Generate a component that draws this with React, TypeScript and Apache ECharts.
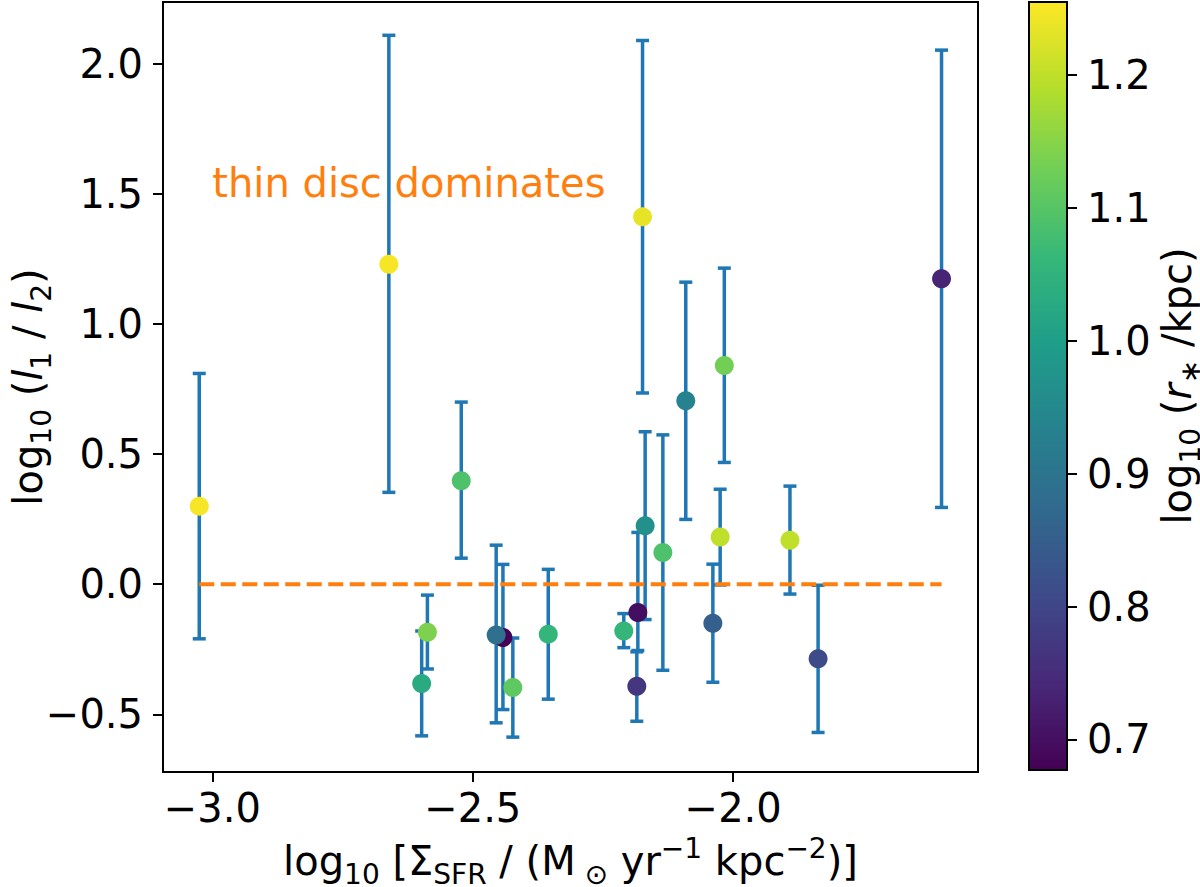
import React, { useEffect, useRef } from 'react';
import * as echarts from 'echarts';

// log10 Sigma_SFR of each galaxy
const sfr = [
  -3.025, -2.661, -2.522, -2.598, -2.587, -2.442, -2.455, -2.423, -2.355, -2.21, -2.183,
  -2.185, -2.169, -2.174, -2.135, -2.091, -2.039, -2.025, -2.017, -1.891, -1.837, -1.6,
];
// log10 (l1 / l2)
const ratio = [
  0.3, 1.23, 0.398, -0.382, -0.185, -0.205, -0.195, -0.397, -0.192, -0.18, -0.109,
  -0.392, 0.225, 1.412, 0.122, 0.705, -0.15, 0.181, 0.841, 0.169, -0.287, 1.174,
];
const ratioLow = [
  -0.21, 0.353, 0.1, -0.583, -0.326, -0.482, -0.533, -0.588, -0.442, -0.244, -0.255,
  -0.527, -0.136, 0.735, -0.331, 0.249, -0.377, -0.003, 0.468, -0.038, -0.57, 0.295,
];
const ratioHigh = [
  0.81, 2.11, 0.7, -0.18, -0.042, 0.076, 0.15, -0.207, 0.057, -0.113, 0.199,
  -0.26, 0.586, 2.09, 0.574, 1.161, 0.077, 0.365, 1.215, 0.377, -0.004, 2.053,
];
// log10 (r* / kpc), colour
const rstar = [
  1.25, 1.25, 1.09, 1.03, 1.14, 0.68, 0.89, 1.11, 1.06, 1.06, 0.7,
  0.77, 0.965, 1.235, 1.09, 0.935, 0.85, 1.2, 1.13, 1.2, 0.81, 0.735,
];

const xTicks = [-3.0, -2.5, -2.0];
const yTicks = [-0.5, 0.0, 0.5, 1.0, 1.5, 2.0];
const cTicks = [0.7, 0.8, 0.9, 1.0, 1.1, 1.2];
const cMin = 0.677;
const cMax = 1.255;

const viridis = [
  '#440154', '#482878', '#3e4989', '#31688e', '#26828e',
  '#1f9e89', '#35b779', '#6ece58', '#b5de2b', '#fde725',
];

const FONT = 'DejaVu Sans';
const FS = 40;

const minus = (v: number) => v.toFixed(1).replace('-', '\u2212');

const rich = {
  n: { fontSize: FS, fontFamily: FONT, color: '#000', lineHeight: 54, verticalAlign: 'middle' },
  i: { fontSize: FS, fontFamily: FONT, fontStyle: 'italic', color: '#000', lineHeight: 54, verticalAlign: 'middle' },
  s: { fontSize: 28, fontFamily: FONT, color: '#000', verticalAlign: 'bottom' },
  p: { fontSize: 28, fontFamily: FONT, color: '#000', verticalAlign: 'top' },
};

const App: React.FC = () => {
  const chartRef = useRef<HTMLDivElement>(null);

  useEffect(() => {
    if (!chartRef.current) return;
    const chart = echarts.init(chartRef.current, undefined, { renderer: 'svg' });

    const errData = sfr.map((x, i) => [x, ratioLow[i], ratioHigh[i]]);
    const pts = sfr.map((x, i) => [x, ratio[i], rstar[i]]);
    const xLo = Math.min(...sfr);
    const xHi = Math.max(...sfr);

    const line = { show: true, onZero: false, lineStyle: { color: '#000', width: 2 } };
    const tick = { show: true, inside: false, length: 10, lineStyle: { color: '#000', width: 2 } };
    const label = { fontSize: FS, fontFamily: FONT, color: '#000' };

    const option: any = {
      animation: false,
      backgroundColor: '#fff',
      grid: [
        {
          left: 163, top: 2, width: 815, height: 770,
          outerBoundsMode: 'none', containLabel: false,
          show: true, borderColor: '#000', borderWidth: 2, backgroundColor: 'transparent',
        },
        { left: 1029, top: 2, width: 38, height: 768, outerBoundsMode: 'none', containLabel: false, show: false },
      ],
      xAxis: [
        {
          type: 'value',
          gridIndex: 0,
          min: -3.0946,
          max: -1.53,
          axisLine: line,
          splitLine: { show: false },
          axisTick: { ...tick, customValues: xTicks },
          axisLabel: { ...label, customValues: xTicks, formatter: (v: number) => minus(v), margin: 16 },
          name: '{n|log}{s|10}{n| [Σ}{s|SFR}{n| / (M}{s| ⊙}{n| yr}{p|−1}{n| kpc}{p|−2}{n|)]}',
          nameLocation: 'middle',
          nameGap: 62,
          nameMoveOverlap: false,
          nameTextStyle: { rich },
        },
        { type: 'value', gridIndex: 1, min: 0, max: 1, show: false },
      ],
      yAxis: [
        {
          type: 'value',
          gridIndex: 0,
          min: -0.722,
          max: 2.238,
          axisLine: line,
          splitLine: { show: false },
          axisTick: { ...tick, customValues: yTicks },
          axisLabel: { ...label, customValues: yTicks, formatter: (v: number) => minus(v), margin: 20 },
          name: '{n|log}{s|10}{n| (}{i|l}{s|1}{n| / }{i|l}{s|2}{n|)}',
          nameLocation: 'middle',
          nameGap: 108,
          nameMoveOverlap: false,
          nameTextStyle: { rich },
        },
        {
          type: 'value',
          gridIndex: 1,
          position: 'right',
          min: cMin,
          max: cMax,
          axisLine: { show: false, onZero: false },
          splitLine: { show: false },
          axisTick: { ...tick, customValues: cTicks },
          axisLabel: { ...label, customValues: cTicks, formatter: (v: number) => v.toFixed(1), margin: 20 },
          name: '{n|log}{s|10}{n| (}{i|r}{s|∗}{n| /kpc)}',
          nameLocation: 'middle',
          nameGap: 83,
          nameMoveOverlap: false,
          nameTextStyle: { rich },
        },
      ],
      visualMap: {
        type: 'continuous',
        show: false,
        min: cMin,
        max: cMax,
        dimension: 2,
        seriesIndex: 2,
        inRange: { color: viridis },
      },
      series: [
        {
          type: 'custom',
          name: 'errors',
          xAxisIndex: 0,
          yAxisIndex: 0,
          z: 2,
          data: errData,
          encode: { x: 0, y: [1, 2] },
          renderItem: (_params: any, api: any) => {
            const x = api.value(0);
            const top = api.coord([x, api.value(2)]);
            const bot = api.coord([x, api.value(1)]);
            const hw = 6.5;
            const style = { stroke: '#1f77b4', lineWidth: 3.5 };
            return {
              type: 'group',
              children: [
                { type: 'line', shape: { x1: top[0], y1: top[1], x2: bot[0], y2: bot[1] }, style },
                { type: 'line', shape: { x1: top[0] - hw, y1: top[1], x2: top[0] + hw, y2: top[1] }, style },
                { type: 'line', shape: { x1: bot[0] - hw, y1: bot[1], x2: bot[0] + hw, y2: bot[1] }, style },
              ],
            };
          },
        },
        {
          type: 'line',
          xAxisIndex: 0,
          yAxisIndex: 0,
          z: 3,
          symbol: 'none',
          data: [[xLo, 0], [xHi, 0]],
          lineStyle: { color: '#ff7f0e', width: 4, type: [15, 6.5] },
        },
        {
          type: 'scatter',
          xAxisIndex: 0,
          yAxisIndex: 0,
          z: 4,
          symbolSize: 19,
          itemStyle: { opacity: 1 },
          data: pts,
        },
        {
          type: 'custom',
          name: 'colorbar',
          xAxisIndex: 1,
          yAxisIndex: 1,
          data: [[0, cMin, cMax]],
          renderItem: (_params: any, api: any) => {
            const p1 = api.coord([0, cMax]);
            const p2 = api.coord([1, cMin]);
            return {
              type: 'rect',
              shape: { x: p1[0], y: p1[1], width: p2[0] - p1[0], height: p2[1] - p1[1] },
              style: {
                fill: new echarts.graphic.LinearGradient(
                  0, 1, 0, 0,
                  viridis.map((c, i) => ({ offset: i / (viridis.length - 1), color: c }))
                ),
                stroke: '#000',
                lineWidth: 2,
              },
            };
          },
        },
      ],
    };

    chart.setOption(option);

    // annotation placed at data coordinates (-3.0, 1.5), baseline aligned
    const at = chart.convertToPixel({ gridIndex: 0 }, [-3.0, 1.5]) as number[];
    chart.setOption({
      graphic: [
        {
          type: 'text',
          x: at[0],
          y: at[1] + 9,
          z: 10,
          style: {
            text: 'thin disc dominates',
            fill: '#ff7f0e',
            fontSize: FS,
            fontFamily: FONT,
            align: 'left',
            verticalAlign: 'bottom',
          },
        },
      ],
    });

    return () => {
      chart.dispose();
    };
  }, []);

  return (
    <div
      ref={chartRef}
      style={{ position: 'fixed', left: 0, top: 0, width: 1200, height: 887, background: '#fff' }}
    />
  );
};

export default App;
